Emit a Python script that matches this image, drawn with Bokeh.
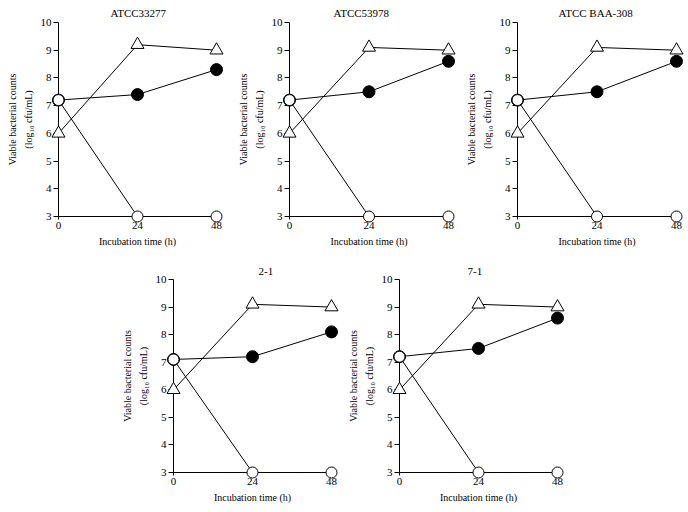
from bokeh.plotting import figure
from bokeh.models import Range1d, FixedTicker, Spacer, Title
from bokeh.layouts import row, column
from bokeh.embed import file_html
from bokeh.resources import INLINE

# ---- data ----
time_h = [0, 24, 48]
strains = ["ATCC33277", "ATCC53978", "ATCC BAA-308", "2-1", "7-1"]
# open triangles
series_triangle = [
    [6.0, 9.2, 9.0],
    [6.0, 9.1, 9.0],
    [6.0, 9.1, 9.0],
    [6.0, 9.1, 9.0],
    [6.0, 9.1, 9.0],
]
# filled circles
series_filled = [
    [7.2, 7.4, 8.3],
    [7.2, 7.5, 8.6],
    [7.2, 7.5, 8.6],
    [7.1, 7.2, 8.1],
    [7.2, 7.5, 8.6],
]
# open circles
series_open = [
    [7.2, 3.0, 3.0],
    [7.2, 3.0, 3.0],
    [7.2, 3.0, 3.0],
    [7.1, 3.0, 3.0],
    [7.2, 3.0, 3.0],
]
y_ticks = [3, 4, 5, 6, 7, 8, 9, 10]
x_ticks = [0, 24, 48]
x_label = "Incubation time (h)"
y_label = "Viable bacterial counts\n(log\u2081\u2080 cfu/mL)"

FONT = "Liberation Serif"
FS_TICK = "11px"
FS_LABEL = "10px"
FS_TITLE = "11px"

# layout parameters per panel (pixels)
layouts = [
    dict(w=230, h=250, bl=58, br=14, bt=22, bb=34, tdx=52, tso=7),
    dict(w=229, h=250, bl=59, br=11, bt=22, bb=34, tdx=44, tso=7),
    dict(w=229, h=250, bl=58, br=12, bt=22, bb=34, tdx=41, tso=7),
    dict(w=228, h=262, bl=57, br=13, bt=29, bb=40, tdx=85, tso=10),
    dict(w=228, h=262, bl=55, br=15, bt=29, bb=40, tdx=68, tso=10),
]


def make_panel(i):
    L = layouts[i]
    p = figure(
        width=L["w"], height=L["h"],
        x_range=Range1d(x_ticks[0], x_ticks[-1]),
        y_range=Range1d(y_ticks[0], y_ticks[-1]),
        output_backend="svg", toolbar_location=None, title=None,
        min_border_left=L["bl"], min_border_right=L["br"],
        min_border_top=L["bt"], min_border_bottom=L["bb"],
        background_fill_color="white", border_fill_color="white",
    )
    p.outline_line_color = None
    p.grid.visible = False

    xa = p.xaxis[0]
    ya = p.yaxis[0]
    xa.ticker = FixedTicker(ticks=x_ticks)
    ya.ticker = FixedTicker(ticks=y_ticks)
    for ax in (xa, ya):
        ax.axis_line_color = "black"
        ax.axis_line_width = 1
        ax.major_tick_line_color = "black"
        ax.major_tick_in = 0
        ax.minor_tick_line_color = None
        ax.major_label_text_font = FONT
        ax.major_label_text_font_size = FS_TICK
        ax.major_label_text_color = "black"
        ax.axis_label_text_font = FONT
        ax.axis_label_text_font_size = FS_LABEL
        ax.axis_label_text_font_style = "normal"
        ax.axis_label_text_color = "black"
        ax.axis_label_text_line_height = 1.4
    xa.major_tick_out = 3
    xa.major_label_standoff = 2
    xa.axis_label = x_label
    xa.axis_label_standoff = 4
    ya.major_tick_out = 5
    ya.major_label_standoff = 2
    ya.axis_label = y_label
    ya.axis_label_standoff = 4

    lw = 1
    lv = "overlay"
    p.line(time_h, series_triangle[i], line_color="black", line_width=lw, level=lv)
    p.line(time_h, series_filled[i], line_color="black", line_width=lw, level=lv)
    p.line(time_h, series_open[i], line_color="black", line_width=lw, level=lv)
    p.scatter(time_h, series_triangle[i], marker="triangle", size=13,
              fill_color="white", line_color="black", line_width=lw, level=lv)
    p.scatter(time_h, series_filled[i], marker="circle", size=12,
              fill_color="black", line_color="black", line_width=lw, level=lv)
    p.scatter(time_h, series_open[i], marker="circle", size=11,
              fill_color="white", line_color="black", line_width=lw, level=lv)

    p.add_layout(Title(text=strains[i], align="left", offset=L["tdx"],
                       standoff=L["tso"], text_font=FONT, text_font_size=FS_TITLE,
                       text_font_style="normal", text_color="black"), "above")
    return p


panels = [make_panel(i) for i in range(len(strains))]
layout = column(
    row(panels[0], panels[1], panels[2]),
    row(Spacer(width=116, height=262), panels[3], panels[4]),
)

open("out.html", "w").write(file_html(layout, INLINE))
